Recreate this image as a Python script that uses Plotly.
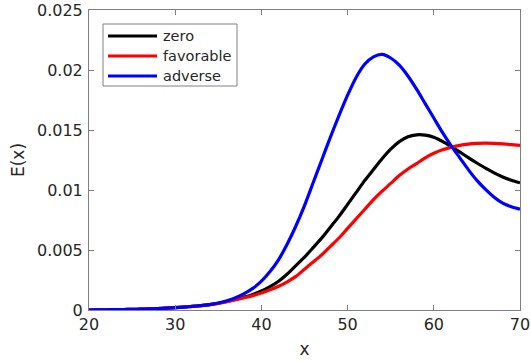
import plotly.graph_objects as go

x_vals = list(range(20, 71))
zero = [0.0, 0.00001, 0.00002, 0.00003, 0.00004, 0.00005, 0.00007, 0.00009, 0.00012, 0.00015,
        0.00019, 0.00024, 0.0003, 0.00037, 0.00045, 0.00056, 0.00071, 0.00088, 0.00107, 0.0013,
        0.00158, 0.00195, 0.0024, 0.0030, 0.0037, 0.0044, 0.0052, 0.0060, 0.0069, 0.0078,
        0.0088, 0.0098, 0.0108, 0.0117, 0.0126, 0.0134, 0.01403, 0.01443, 0.0146, 0.01458,
        0.0144, 0.01405, 0.01362, 0.01317, 0.0127, 0.01225, 0.01182, 0.01143, 0.01109, 0.01082, 0.0106]
favorable = [0.0, 0.00001, 0.00002, 0.00003, 0.00004, 0.00005, 0.00007, 0.00009, 0.00012, 0.00015,
             0.00019, 0.00024, 0.0003, 0.00037, 0.00045, 0.00055, 0.0007, 0.00085, 0.00102, 0.0012,
             0.00142, 0.00168, 0.00198, 0.00235, 0.0028, 0.0034, 0.0040, 0.0046, 0.0053, 0.0060,
             0.0068, 0.0076, 0.0084, 0.0092, 0.0099, 0.01055, 0.0112, 0.01175, 0.0122, 0.01268,
             0.01306, 0.01335, 0.01355, 0.01372, 0.01383, 0.01388, 0.0139, 0.01388, 0.01384, 0.01378, 0.01371]
adverse = [0.0, 0.00001, 0.00002, 0.00003, 0.00004, 0.00005, 0.00007, 0.00009, 0.00012, 0.00015,
           0.00019, 0.00024, 0.0003, 0.00037, 0.00045, 0.00058, 0.00077, 0.00102, 0.00136, 0.0018,
           0.0024, 0.0032, 0.0042, 0.0055, 0.0070, 0.0087, 0.0106, 0.0125, 0.0144, 0.0162,
           0.0179, 0.0194, 0.0205, 0.0211, 0.0213, 0.0210, 0.0204, 0.0195, 0.0184, 0.0172,
           0.0160, 0.0148, 0.0137, 0.0127, 0.0117, 0.0108, 0.01005, 0.0094, 0.0089, 0.0086, 0.0084]

series_names = ["zero", "favorable", "adverse"]
series_data = [zero, favorable, adverse]
series_colors = ["#000000", "#ff0000", "#0000ff"]

x_ticks = [20, 30, 40, 50, 60, 70]
y_ticks = [0, 0.005, 0.01, 0.015, 0.02, 0.025]
y_tick_labels = ["0", "0.005", "0.01", "0.015", "0.02", "0.025"]

FONT = "DejaVu Sans"
AX = "#808080"
TXT = "#262626"

fig = go.Figure()
for name, ys, col in zip(series_names, series_data, series_colors):
    fig.add_trace(go.Scatter(x=x_vals, y=ys, mode="lines", name=name,
                             line=dict(color=col, width=3.2, shape="spline", smoothing=0.8),
                             showlegend=False))

# manual legend (MATLAB style)
L, R, T, B = 89, 520, 10, 310
W, H = R - L, B - T
def px(xp):
    return (xp - L) / W
def py(yp):
    return (B - yp) / H

fig.add_shape(type="rect", xref="paper", yref="paper",
              x0=px(103), x1=px(237), y0=py(86), y1=py(24),
              line=dict(color=AX, width=1), fillcolor="white", layer="above")
rows = [36, 56, 76]
for name, col, yr in zip(series_names, series_colors, rows):
    fig.add_shape(type="line", xref="paper", yref="paper",
                  x0=px(108), x1=px(157), y0=py(yr), y1=py(yr),
                  line=dict(color=col, width=3.2), layer="above")
    fig.add_annotation(xref="paper", yref="paper", x=px(161), y=py(yr),
                       text=name, showarrow=False, xanchor="left", yanchor="middle",
                       font=dict(family=FONT, size=14.5, color=TXT))

fig.update_xaxes(range=[20, 70], tickvals=x_ticks, ticks="inside", ticklen=5,
                 tickcolor=AX, linecolor=AX, linewidth=1, mirror="ticks",
                 showgrid=False, zeroline=False, showline=True,
                 tickfont=dict(family=FONT, size=16, color=TXT),
                 title=dict(text="x", font=dict(family=FONT, size=17, color=TXT), standoff=9))
fig.update_yaxes(range=[0, 0.025], tickvals=y_ticks, ticktext=y_tick_labels,
                 ticks="inside", ticklen=5, ticklabelstandoff=2,
                 tickcolor=AX, linecolor=AX, linewidth=1, mirror="ticks",
                 showgrid=False, zeroline=False, showline=True,
                 tickfont=dict(family=FONT, size=16, color=TXT),
                 title=dict(text="E(x)", font=dict(family=FONT, size=17, color=TXT), standoff=8))

fig.update_layout(width=531, height=362, margin=dict(l=L, r=531 - R, t=T, b=362 - B, autoexpand=False),
                  paper_bgcolor="white", plot_bgcolor="white", showlegend=False)

fig.write_html("out.html")
